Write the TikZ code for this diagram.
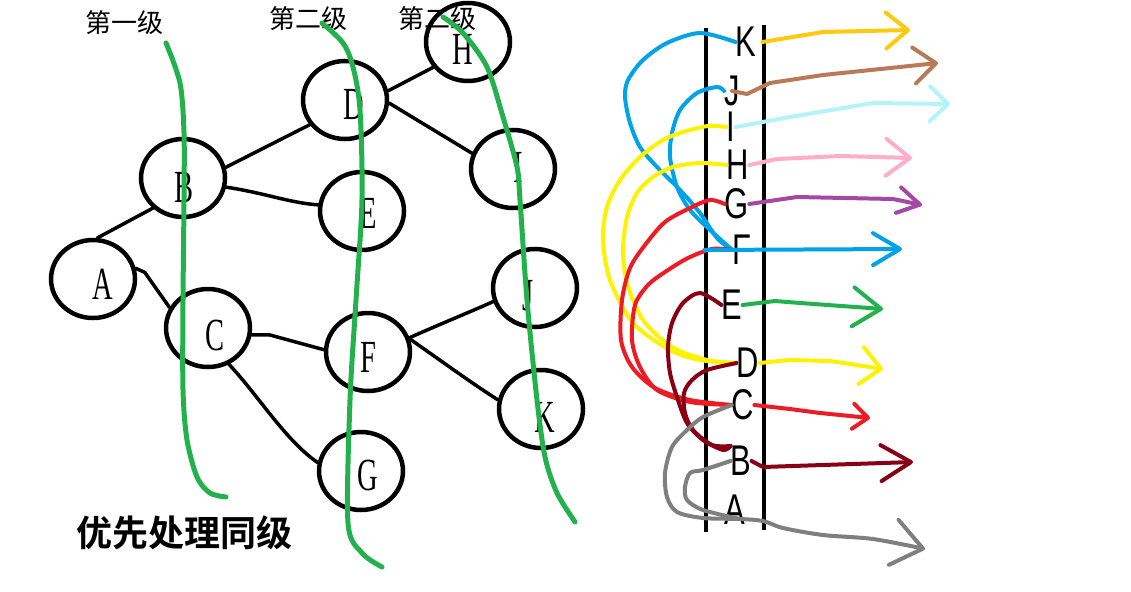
\documentclass[tikz,border=0pt]{standalone}
\usepackage{fontspec}
\usetikzlibrary{shapes.geometric,arrows.meta}
\setmainfont{Liberation Serif}
\newfontfamily\treefont[FakeStretch=0.62]{Liberation Serif}
\newfontfamily\qfont[FakeStretch=0.72]{Liberation Sans}
\newfontfamily\cjk[BoldFont={* Bold}]{Noto Sans CJK SC}
\definecolor{lvlgreen}{HTML}{22B14C}
\definecolor{cK}{HTML}{FFC90E}
\definecolor{cJ}{HTML}{B97A57}
\definecolor{cI}{HTML}{B4F4F8}
\definecolor{cH}{HTML}{FFAEC9}
\definecolor{cG}{HTML}{A349A4}
\definecolor{cF}{HTML}{00A2E8}
\definecolor{cE}{HTML}{22B14C}
\definecolor{cD}{HTML}{FFF200}
\definecolor{cC}{HTML}{ED1C24}
\definecolor{cB}{HTML}{880015}
\definecolor{cA}{HTML}{7F7F7F}
\begin{document}
\begin{tikzpicture}[x=1pt,y=-1pt,
	tnode/.style={ellipse,draw,line width=4.5pt,minimum width=84pt,minimum height=78pt,inner sep=0pt},
	tlbl/.style={font=\treefont\fontsize{46}{46}\selectfont,inner sep=0pt},
	qlbl/.style={font=\qfont\fontsize{43}{43}\selectfont,inner sep=0pt},
	lvltxt/.style={font=\cjk\fontsize{26}{26}\selectfont,inner sep=0pt},
	link/.style={line width=3.5pt,line cap=round,line join=round},
	lvl/.style={draw=lvlgreen,line width=5pt,line cap=round},
	mv/.style={line width=4pt,line cap=round,line join=round},
	hd/.style args={#1/#2}{-{Straight Barb[length=#1pt,width=#2pt,round]}}]
	\useasboundingbox (0,0) rectangle (1131,591);
	% tree
	\node[lvltxt] (l1) at (124,23) {第一级};
	\node[lvltxt] (l2) at (308,19) {第二级};
	\node[lvltxt] (l3) at (437,19) {第二级};
	\node[tnode,label={[tlbl,shift={(10,5)}]center:A}] (A) at (93,279) {};
	\node[tnode,label={[tlbl,shift={(1,10)}]center:B}] (B) at (183,178) {};
	\node[tnode,label={[tlbl,shift={(7,7)}]center:C}] (C) at (208,328) {};
	\node[tnode,label={[tlbl,shift={(9,4)}]center:D}] (D) at (345,100) {};
	\node[tnode,label={[tlbl,shift={(6,2)}]center:E}] (E) at (362,211) {};
	\node[tnode,label={[tlbl,shift={(0,5)}]center:F}] (F) at (368,352) {};
	\node[tnode,label={[tlbl,shift={(7,4)}]center:G}] (G) at (361,471) {};
	\node[tnode,label={[tlbl,shift={(-5,7)}]center:H}] (H) at (468,42) {};
	\node[tnode,label={[tlbl,shift={(5,-2)}]center:I}] (I) at (513,169) {};
	\node[tnode,label={[tlbl,shift={(-7,8)}]center:J}] (J) at (535,288) {};
	\node[tnode,label={[tlbl,shift={(4,8)}]center:K}] (K) at (541,409) {};
	\draw[link] (A.84) -- (B.225);
	\draw[link] (A.14) -- ++(9,4) -- (C.152);
	\draw[link] (B.14) -- (D.215);
	\draw[link] (B.348) .. controls (265,193) and (290,203) .. (E.172);
	\draw[link] (D.12) -- (H.216);
	\draw[link] (D.356) -- (I.159);
	\draw[link] (C.351) -- ++(18,0) -- (F.177);
	\draw[link] (C.300) .. controls (258,395) and (285,440) .. (G.169);
	\draw[link] (F.19) .. controls (445,322) and (470,312) .. (J.198);
	\draw[link] (F.17) .. controls (440,360) and (470,382) .. (K.168);
	\draw[lvl] plot[smooth] coordinates {(166,43) (180,83) (184,133) (184,200) (183,300) (183,390) (187,440) (197,477) (210,493) (226,497)};
	\draw[lvl] plot[smooth] coordinates {(322,23) (343,43) (353,67) (360,110) (362,200) (356,300) (350,400) (348,523) (362,553) (382,567)};
	\draw[lvl] plot[smooth] coordinates {(443,17) (463,33) (487,67) (503,117) (517,167) (520,200) (527,300) (537,400) (545,457) (557,493) (575,522)};
	\node[font=\cjk\bfseries\fontsize{36}{36}\selectfont,inner sep=0pt] (note) at (184,533) {优先处理同级};
	% queue
	\draw[line width=4.5pt] (706,28) -- (706,532);
	\draw[line width=4.5pt] (764,25) -- (764,530);
	\node[qlbl] (qK) at (746,42) {K};
	\node[qlbl] (qJ) at (732,91) {J};
	\node[qlbl] (qI) at (731,127) {I};
	\node[qlbl] (qH) at (738,165) {H};
	\node[qlbl] (qG) at (737,204) {G};
	\node[qlbl] (qF) at (742,250) {F};
	\node[qlbl] (qE) at (732,305) {E};
	\node[qlbl] (qD) at (748,363) {D};
	\node[qlbl] (qC) at (743,405) {C};
	\node[qlbl] (qB) at (741,461) {B};
	\node[qlbl] (qA) at (735,510) {A};
	\coordinate (tK) at (910,30);
	\coordinate (tJ) at (938,63);
	\coordinate (tI) at (950,104);
	\coordinate (tH) at (912,158);
	\coordinate (tG) at (922,205);
	\coordinate (tF) at (902,249);
	\coordinate (tE) at (883,309);
	\coordinate (tD) at (883,369);
	\coordinate (tC) at (870,418);
	\coordinate (tB) at (913,462);
	\coordinate (tA) at (925,549);
	\coordinate (mA) at (740,519);
	\draw[mv,draw=cF] plot[smooth] coordinates {(qF.west) (717,238) (700,213) (680,190) (657,167) (640,147) (630,123) (625,97) (628,80) (643,60) (667,43) (700,33) (qK.west)};
	\draw[mv,draw=cF] plot[smooth] coordinates {(qF.west) (710,230) (690,210) (677,187) (670,157) (672,133) (680,110) (697,93) (717,87) (qJ.west)};
	\draw[mv,draw=cD] plot[smooth] coordinates {(qD.west) (700,360) (670,350) (633,323) (610,280) (603,240) (607,207) (620,180) (640,157) (663,140) (683,132) (708,126) (qI.west)};
	\draw[mv,draw=cD] plot[smooth] coordinates {(qD.west) (707,360) (672,347) (643,320) (627,283) (623,250) (627,217) (637,193) (653,177) (673,167) (700,163) (qH.west)};
	\draw[mv,draw=cC] plot[smooth] coordinates {(qC.west) (690,400) (655,388) (632,367) (621,340) (622,300) (630,268) (645,245) (665,222) (690,208) (710,200) (qG.west)};
	\draw[mv,draw=cC] plot[smooth] coordinates {(qC.west) (690,402) (657,390) (640,367) (632,340) (635,305) (648,285) (665,272) (688,258) (712,249) (qF.west)};
	\draw[mv,draw=cB] plot[smooth] coordinates {(qB.north west) (723,450) (703,440) (687,423) (677,397) (670,373) (668,347) (672,323) (683,303) (700,293) (qE.west)};
	\draw[mv,draw=cB] plot[smooth] coordinates {(qB.north west) (712,445) (693,430) (685,413) (684,393) (692,380) (707,370) (qD.west)};
	\draw[mv,draw=cA] plot[smooth] coordinates {(qB.west) (703,470) (690,473) (685,487) (687,500) (703,510) (mA)};
	\draw[mv,draw=cA,hd=30/46] plot[smooth] coordinates {(qC.west) (703,417) (687,430) (672,447) (665,473) (667,497) (677,512) (703,518) (mA) (763,521) (783,528) (823,535) (873,539) (tA)};
	\draw[mv,draw=cK,hd=22/36] ([xshift=6pt]qK.east) -- (823,32) -- (tK);
	\draw[mv,draw=cJ,hd=22/36] (qJ.center) -- (747,94) -- (770,83) -- (823,75) -- (tJ);
	\draw[mv,draw=cI,hd=18/35] (qI.east) -- (790,117) -- (873,103) -- (tI);
	\draw[mv,draw=cH,hd=24/37] (qH.east) -- (777,159) -- (840,156) -- (tH);
	\draw[mv,draw=cG,hd=22/26] (qG.east) -- (797,197) -- (893,199) -- (tG);
	\draw[mv,draw=cF,hd=27/32] ([xshift=-28pt]qF.west) -- (tF);
	\draw[mv,draw=cE,hd=28/39] (qE.east) -- (775,301) -- (800,303) -- (tE);
	\draw[mv,draw=cD,hd=20/37] (qD.east) -- (790,360) -- (830,361) -- (tD);
	\draw[mv,draw=cC,hd=15/25] (qC.east) -- (790,409) -- (820,413) -- (tC);
	\draw[mv,draw=cB,hd=30/36] (qB.east) -- (763,467) -- (823,465) -- (tB);
\end{tikzpicture}
\end{document}
